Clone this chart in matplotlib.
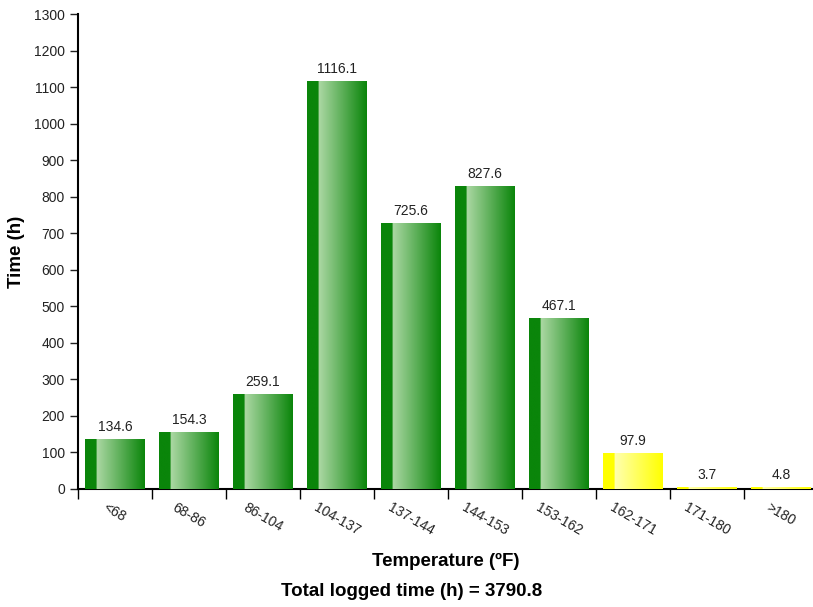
import numpy as np
import matplotlib.pyplot as plt
from matplotlib.colors import LinearSegmentedColormap

plt.rcParams['font.family'] = ['Liberation Sans', 'DejaVu Sans']

# Datos del grafico
categorias = ['<68', '68-86', '86-104', '104-137', '137-144', '144-153',
              '153-162', '162-171', '171-180', '>180']
horas = [134.6, 154.3, 259.1, 1116.1, 725.6, 827.6, 467.1, 97.9, 3.7, 4.8]
etiquetas = ['134.6', '154.3', '259.1', '1116.1', '725.6', '827.6', '467.1',
             '97.9', '3.7', '4.8']
total = '3790.8'
es_alerta = [False] * 7 + [True] * 3


def gradiente(oscuro, claro):
    # franja oscura a la izquierda, luego de claro a oscuro
    return LinearSegmentedColormap.from_list(
        'g', [(0.0, oscuro), (0.19, oscuro), (0.195, claro), (1.0, oscuro)])


cmap_verde = gradiente('#0a850a', '#acd8a4')
cmap_amarillo = gradiente('#ffff00', '#ffffb0')

fig = plt.figure(figsize=(8.13, 6.07), dpi=100)
ax = fig.add_axes([78 / 813, 1 - 489 / 607, 1 - 78 / 813, (489 - 14) / 607])

x = np.arange(len(categorias))
barras = ax.bar(x, horas, width=0.8, color='none', edgecolor='none', zorder=2)

fila = np.linspace(0, 1, 256).reshape(1, -1)
for b, alerta in zip(barras, es_alerta):
    x0, y0 = b.get_x(), b.get_y()
    w, h = b.get_width(), b.get_height()
    cmap = cmap_amarillo if alerta else cmap_verde
    ax.imshow(fila, cmap=cmap, extent=(x0, x0 + w, y0, y0 + h),
              aspect='auto', interpolation='bilinear', zorder=3)

for xi, v, t in zip(x, horas, etiquetas):
    ax.annotate(t, (xi, v), xytext=(0, 4), textcoords='offset points',
                ha='center', va='bottom', fontsize=10, color='#222222')

ax.set_xlim(-0.5, -0.5 + (813 - 78) / 74)
ax.set_ylim(0, 1300)
ax.set_yticks(np.arange(0, 1301, 100))
ax.tick_params(axis='y', labelsize=10, length=6, width=1, colors='#222222')

# ticks en los limites de cada categoria, etiquetas en el centro
ax.set_xticks(np.arange(-0.5, len(categorias) - 0.5, 1))
ax.set_xticklabels([])
ax.tick_params(axis='x', which='major', length=7, width=1)
ax.set_xticks(x, minor=True)
ax.set_xticklabels(categorias, minor=True, rotation=-30, ha='center',
                   fontsize=10, color='#222222')
ax.tick_params(axis='x', which='minor', length=0, pad=8)

for s in ['top', 'right']:
    ax.spines[s].set_visible(False)
ax.spines['left'].set_linewidth(1.5)
ax.spines['bottom'].set_linewidth(1.5)

ax.set_ylabel('Time (h)', fontsize=13.5, fontweight='bold', labelpad=6)
ax.set_xlabel('Temperature (ºF)', fontsize=13.5, fontweight='bold', labelpad=11)
fig.text(412 / 813, 1 - 591 / 607, 'Total logged time (h) = ' + total,
         ha='center', va='center', fontsize=13.5, fontweight='bold')

fig.savefig('out.png', dpi=100)
